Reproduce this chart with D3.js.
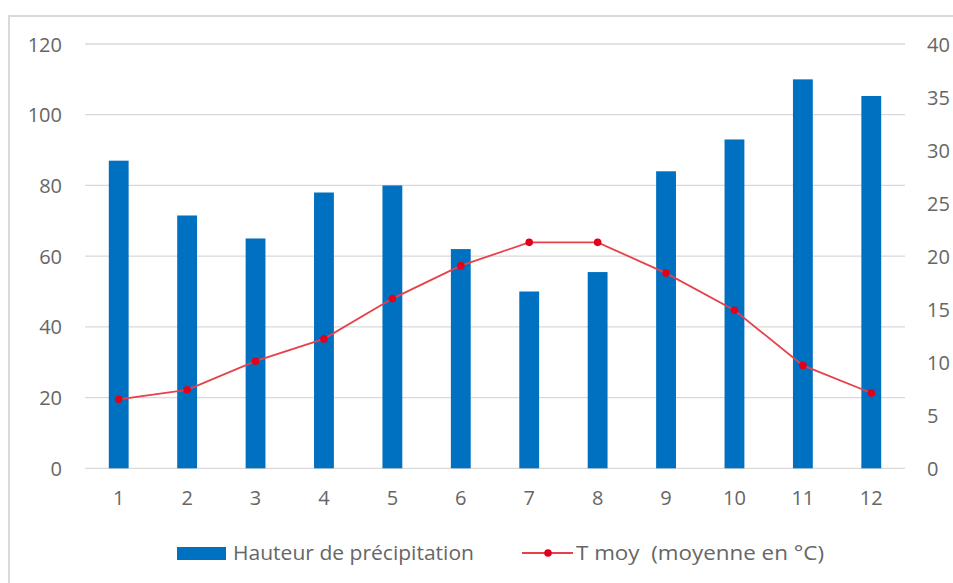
<!DOCTYPE html>
<html><head><meta charset="utf-8">
<script src="https://cdn.jsdelivr.net/npm/d3@7"></script>
<style>html,body{margin:0;padding:0;background:#fff;overflow:hidden}svg{display:block}text{white-space:pre}</style>
</head><body><svg id="c" width="953" height="583"></svg>
<script>
const months = ["1","2","3","4","5","6","7","8","9","10","11","12"];
const precipitation = [87, 71.5, 65, 78, 80, 62, 50, 55.5, 84, 93, 110, 105.3];
const temperature = [6.5, 7.4, 10.1, 12.2, 16.0, 19.1, 21.3, 21.3, 18.4, 14.9, 9.7, 7.1];
const leftTicks = [0, 20, 40, 60, 80, 100, 120];
const rightTicks = [0, 5, 10, 15, 20, 25, 30, 35, 40];
const seriesNames = ["Hauteur de précipitation", "T moy  (moyenne en °C)"];

const svg = d3.select("#c");
const font = "'Open Sans', 'Noto Sans', sans-serif";
const textColor = "#666666";
const barColor = "#0070c0";
const lineColor = "#e8404a";
const markerColor = "#e3001b";
const fs = 20;

svg.append("rect").attr("x", 9).attr("y", 16).attr("width", 1000).attr("height", 700)
  .attr("fill", "#fff").attr("stroke", "#d9d9d9").attr("stroke-width", 2);

const x = d3.scaleBand().domain(months).range([84.5, 905.5]).paddingInner(0.71).paddingOuter(0.355);
const yL = d3.scaleLinear().domain([0, 120]).range([468.3, 44]);
const yR = d3.scaleLinear().domain([0, 40]).range([468.3, 44]);

// gridlines
svg.append("g").selectAll("line").data(leftTicks).join("line")
  .attr("x1", 85).attr("x2", 905)
  .attr("y1", d => yL(d)).attr("y2", d => yL(d))
  .attr("stroke", "#d9d9d9").attr("stroke-width", 1.3);

// left axis
const axL = svg.append("g").attr("transform", "translate(62,0)")
  .call(d3.axisLeft(yL).tickValues(leftTicks).tickSize(0).tickPadding(0));
axL.select(".domain").remove();
axL.selectAll("text").attr("font-family", font).attr("font-size", fs).attr("fill", textColor).attr("dy", "0.35em");

// right axis
const axR = svg.append("g").attr("transform", "translate(927,0)")
  .call(d3.axisRight(yR).tickValues(rightTicks).tickSize(0).tickPadding(0));
axR.select(".domain").remove();
axR.selectAll("text").attr("font-family", font).attr("font-size", fs).attr("fill", textColor).attr("dy", "0.35em");

// bottom axis
const axB = svg.append("g").attr("transform", "translate(0,468.3)")
  .call(d3.axisBottom(x).tickSize(0).tickPadding(30));
axB.select(".domain").remove();
axB.selectAll("text").attr("font-family", font).attr("font-size", fs).attr("fill", textColor).attr("dy", "0.35em");

// bars
svg.append("g").selectAll("rect").data(precipitation).join("rect")
  .attr("x", (d, i) => x(months[i]))
  .attr("width", x.bandwidth())
  .attr("y", d => yL(d))
  .attr("height", d => yL(0) - yL(d))
  .attr("fill", barColor);

// line
const cx = (i) => x(months[i]) + x.bandwidth() / 2;
svg.append("path").datum(temperature)
  .attr("d", d3.line().x((d, i) => cx(i)).y(d => yR(d)))
  .attr("fill", "none").attr("stroke", lineColor).attr("stroke-width", 1.8);
svg.append("g").selectAll("circle").data(temperature).join("circle")
  .attr("cx", (d, i) => cx(i)).attr("cy", d => yR(d)).attr("r", 3.8).attr("fill", markerColor);

// legend
const lg = svg.append("g");
lg.append("rect").attr("x", 177).attr("y", 547).attr("width", 49).attr("height", 13).attr("fill", barColor);
lg.append("text").attr("x", 233).attr("y", 560).text(seriesNames[0])
  .attr("font-family", font).attr("font-size", 20.5).attr("fill", textColor)
  .attr("textLength", 241).attr("lengthAdjust", "spacingAndGlyphs");
lg.append("line").attr("x1", 522).attr("x2", 573).attr("y1", 553).attr("y2", 553)
  .attr("stroke", lineColor).attr("stroke-width", 1.8);
lg.append("circle").attr("cx", 548).attr("cy", 553).attr("r", 3.8).attr("fill", markerColor);
lg.append("text").attr("x", 576).attr("y", 560).text(seriesNames[1])
  .attr("font-family", font).attr("font-size", 20.5).attr("fill", textColor)
  .attr("textLength", 248).attr("lengthAdjust", "spacingAndGlyphs");
</script></body></html>
